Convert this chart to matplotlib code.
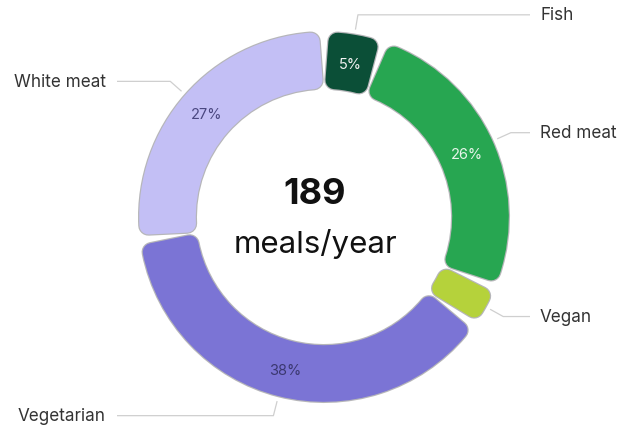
import numpy as np
import matplotlib
matplotlib.use("Agg")
import matplotlib.pyplot as plt

plt.rcParams['font.family'] = ['Inter', 'DejaVu Sans']

categories = ["Fish", "Red meat", "Vegan", "Vegetarian", "White meat"]
meals = [10, 49, 7, 72, 51]
colors = ["#0b4f37", "#27a651", "#b5d23b", "#7b74d5", "#c3bff5"]
pct_colors = ["#f2f2f2", "#e8f5ea", None, "#3b3870", "#4a4780"]
total_label = "189"
unit_label = "meals/year"

W, H = 621, 431
fig = plt.figure(figsize=(W / 100, H / 100), dpi=100)
ax = fig.add_axes([0, 0, 1, 1])

cx, cy = 324, H - 218
R_out, R_in = 186, 127
rc, bd = 9, 1.2
gap = 3.5
px = 0.72
R_mid = (R_out + R_in) / 2
d = np.degrees((gap / 2 + rc + bd) / R_mid)

def draw_layer(face, lw):
    wedges, _ = ax.pie(meals, startangle=90, counterclock=False,
                       radius=R_out - rc - bd, center=(cx, cy),
                       colors=face,
                       wedgeprops=dict(width=(R_out - R_in) - 2 * (rc + bd),
                                       linewidth=lw, joinstyle='round'))
    mids = []
    for w in wedges:
        t1, t2 = w.theta1, w.theta2
        mids.append((t1 + t2) / 2)
        w.set_theta1(t1 + d)
        w.set_theta2(t2 - d)
        w.set_edgecolor(w.get_facecolor())
    return wedges, mids

bw, mids = draw_layer(["#a4a4a8"] * len(meals), 2 * (rc + bd) * px)
for w in bw:
    w.set_alpha(0.8)
fw, _ = draw_layer(colors, 2 * rc * px)

total = sum(meals)
for m, v, c, name in zip(mids, meals, pct_colors, categories):
    a = np.radians(m)
    pct = v / total * 100
    if pct >= 4.5:
        ax.text(cx + R_mid * np.cos(a), cy + R_mid * np.sin(a) - 1,
                f"{pct:.0f}%", ha='center', va='center', fontsize=10.5,
                color=c)
    x1, y1 = cx + 190 * np.cos(a), cy + 190 * np.sin(a)
    x2, y2 = cx + 205 * np.cos(a), cy + 205 * np.sin(a)
    right = np.cos(a) > 0
    x3 = 530 if right else 117
    ax.plot([x1, x2, x3], [y1, y2, y2], color="#cfcfcf", lw=0.9,
            solid_capstyle='butt')
    ax.text(540 if right else 106, y2, name, ha='left' if right else 'right',
            va='center', fontsize=12.3, color="#333333")

ax.text(315, H - 195, total_label, ha='center', va='center', fontsize=26,
        fontweight='bold', color="#111111")
ax.text(315, H - 244, unit_label, ha='center', va='center', fontsize=22.5,
        color="#111111")

ax.set_xlim(0, W)
ax.set_ylim(0, H)
ax.set_aspect('auto')
ax.axis('off')
fig.savefig("out.png", dpi=100)
